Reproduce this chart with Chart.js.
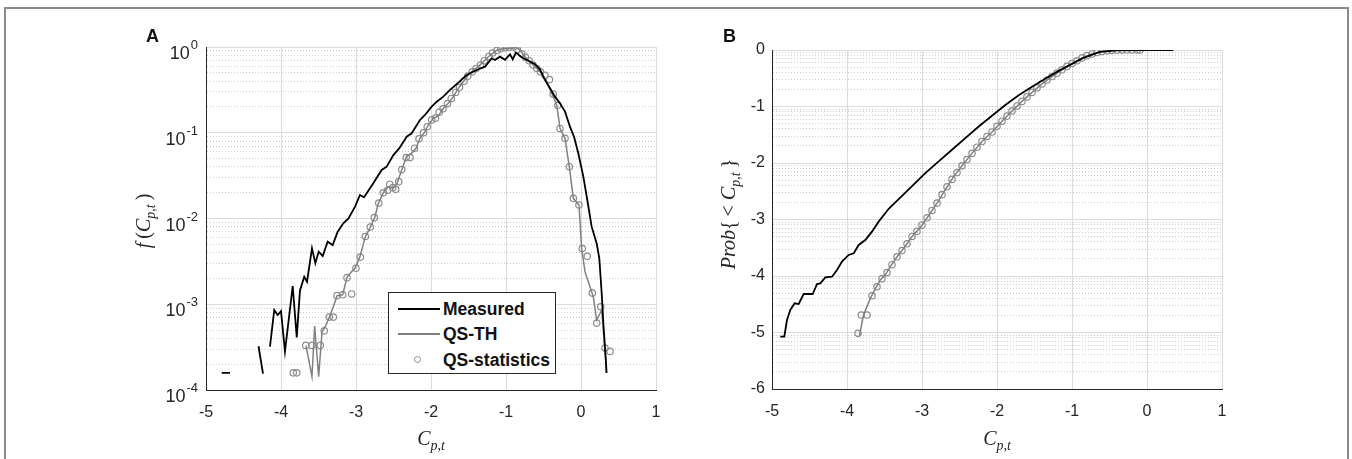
<!DOCTYPE html>
<html>
<head>
<meta charset="utf-8">
<script src="https://cdn.jsdelivr.net/npm/chart.js@4.4.0/dist/chart.umd.min.js"></script>
<style>
    body { margin: 0; background: #fff; width: 1352px; height: 459px; overflow: hidden; position: relative;
           font-family: "Liberation Sans", Arial, sans-serif; }
    .frame { position: absolute; left: 4px; top: 7px; width: 1345px; height: 480px;
             border: 2px solid #8c8c8c; box-sizing: border-box; }
    .panel { position: absolute; top: 0; }
    .letter { position: absolute; font-weight: bold; font-size: 18px; color: #111; }
    .mtitle { position: absolute; font-family: "Liberation Serif", "DejaVu Serif", serif; font-size: 20px;
              color: #262626; white-space: nowrap; transform: translate(-50%, -50%); }
    .mtitle.rot { transform: translate(-50%, -50%) rotate(-90deg); }
    .mtitle i { font-style: italic; }
    .mtitle sub { font-size: 14px; font-style: italic; vertical-align: -5px; line-height: 0; }
    .legend { position: absolute; left: 388px; top: 292px; width: 168px; height: 82px; background: #fff;
              border: 1px solid #262626; box-sizing: border-box; }
    .legend .row { position: absolute; left: 0; height: 20px; width: 100%; }
    .legend .sample { position: absolute; left: 9px; top: 9px; width: 42px; height: 0; }
    .legend .dot { position: absolute; left: 25px; top: 6px; width: 7px; height: 7px; border-radius: 50%;
                   border: 1.2px solid #8c8c8c; box-sizing: border-box; }
    .legend .txt { position: absolute; left: 54px; top: 0; font-size: 17.5px; font-weight: bold; line-height: 20px; color: #111; }
</style>
</head>
<body>
<div class="frame"></div>
<div class="panel" style="left:0"><canvas id="chartA" width="676" height="459"></canvas></div>
<div class="panel" style="left:676px"><canvas id="chartB" width="676" height="459"></canvas></div>

<div class="letter" style="left:146px; top:26px">A</div>
<div class="letter" style="left:723px; top:26px">B</div>

<div class="mtitle" style="left:431px; top:438px"><i>C</i><sub>p,t</sub></div>
<div class="mtitle rot" style="left:143px; top:221px"><i>f</i>&thinsp;(<i>C</i><sub>p,t</sub>&thinsp;)</div>
<div class="mtitle" style="left:997px; top:438px"><i>C</i><sub>p,t</sub></div>
<div class="mtitle rot" style="left:728px; top:214px"><i>Prob</i>{&thinsp;&lt;&nbsp;<i>C</i><sub>p,t</sub>&thinsp;}</div>

<div class="legend">
    <div class="row" style="top:6px"><div class="sample" style="border-top:2px solid #000"></div><div class="txt">Measured</div></div>
    <div class="row" style="top:31px"><div class="sample" style="border-top:2px solid #808080"></div><div class="txt">QS-TH</div></div>
    <div class="row" style="top:57px"><div class="dot"></div><div class="txt">QS-statistics</div></div>
</div>

<script>
// Panel A: pdf, log10 f(Cp,t)  (null = no value, gap in line)
const cpMeasA = [-4.79, -4.68, -4.5, -4.30, -4.24, -4.2, -4.147, -4.09, -4.044, -4.0, -3.947, -3.844, -3.79, -3.747, -3.69, -3.653,
    -3.587, -3.542, -3.498, -3.444, -3.378, -3.311, -3.244, -3.169, -3.10, -3.013, -2.947, -2.893, -2.769, -2.658, -2.591, -2.502,
    -2.422, -2.324, -2.258, -2.147, -2.08, -1.991, -1.924, -1.836, -1.747, -1.636, -1.524, -1.391, -1.28, -1.191, -1.147, -1.08,
    -1.013, -0.947, -0.91, -0.867, -0.791, -0.68, -0.613, -0.547, -0.48, -0.413, -0.347, -0.28, -0.213, -0.147, -0.093, -0.036,
    0.031, 0.084, 0.142, 0.209, 0.244, 0.276, 0.298, 0.333, 0.34];
const logfMeasA = [-3.80, -3.80, null, -3.49, -3.81, null, -3.495, -3.067, -3.125, -3.08, -3.55, -2.787, -3.386, -2.84, -2.68, -2.737,
    -2.348, -2.52, -2.387, -2.437, -2.27, -2.31, -2.154, -2.056, -2.0, -1.862, -1.726, -1.753, -1.59, -1.434, -1.396, -1.26,
    -1.18, -1.046, -1.006, -0.851, -0.793, -0.696, -0.638, -0.579, -0.501, -0.416, -0.327, -0.268, -0.229, -0.132, -0.152, -0.113,
    -0.15, -0.085, -0.143, -0.066, -0.12, -0.171, -0.20, -0.26, -0.385, -0.482, -0.579, -0.657, -0.754, -0.929, -1.046, -1.24,
    -1.512, -1.784, -2.095, -2.29, -2.464, -2.872, -3.222, -3.67, -3.80];

const cpThA = [-3.667, -3.587, -3.551, -3.498, -3.453, -3.409, -3.356, -3.302, -3.253, -3.178, -3.12, -3.06, -3.013, -2.947, -2.876,
    -2.809, -2.747, -2.702, -2.636, -2.569, -2.502, -2.449, -2.391, -2.324, -2.26, -2.2, -2.147, -2.08, -2.036, -1.969, -1.902,
    -1.836, -1.769, -1.702, -1.636, -1.569, -1.502, -1.436, -1.369, -1.302, -1.236, -1.178, -1.116, -1.049, -0.991, -0.924, -0.867,
    -0.82, -0.747, -0.68, -0.613, -0.547, -0.48, -0.391, -0.324, -0.28, -0.213, -0.156, -0.102, -0.027, 0.009, 0.053, 0.164,
    0.209, 0.276, 0.342];
const logfThA = [-3.483, -3.845, -3.254, -3.845, -3.32, -3.262, -3.152, -3.028, -2.90, -2.89, -2.686, -2.62, -2.58, -2.445, -2.212,
    -2.103, -1.979, -1.823, -1.699, -1.629, -1.648, -1.582, -1.434, -1.271, -1.24, -1.181, -1.065, -0.987, -0.91, -0.832, -0.805,
    -0.715, -0.657, -0.579, -0.482, -0.405, -0.327, -0.268, -0.229, -0.171, -0.113, -0.074, -0.035, -0.023, -0.015, -0.015, -0.004,
    -0.03, -0.113, -0.171, -0.229, -0.288, -0.365, -0.54, -0.676, -0.948, -1.065, -1.396, -1.765, -1.843, -2.348, -2.62, -2.912,
    -3.184, -3.067, -3.80];

const cpStatA = [-3.836, -3.79, -3.67, -3.587, -3.476, -3.423, -3.356, -3.302, -3.253, -3.178, -3.12, -3.058, -3.0, -2.942, -2.876,
    -2.809, -2.756, -2.697, -2.636, -2.58, -2.55, -2.51, -2.47, -2.43, -2.39, -2.33, -2.28, -2.22, -2.16, -2.10, -2.05, -1.99,
    -1.94, -1.89, -1.84, -1.78, -1.73, -1.67, -1.62, -1.56, -1.51, -1.45, -1.40, -1.34, -1.29, -1.23, -1.18, -1.12, -1.07, -1.01,
    -0.96, -0.90, -0.85, -0.79, -0.74, -0.69, -0.64, -0.59, -0.54, -0.48, -0.42, -0.37, -0.31, -0.28, -0.213, -0.156, -0.102,
    -0.027, 0.017, 0.084, 0.151, 0.209, 0.263, 0.32, 0.387];
const logfStatA = [-3.80, -3.80, -3.48, -3.48, -3.48, -3.31, -3.15, -3.15, -2.90, -2.89, -2.69, -2.88, -2.58, -2.45, -2.21,
    -2.10, -1.99, -1.82, -1.70, -1.67, -1.60, -1.64, -1.66, -1.57, -1.43, -1.29, -1.29, -1.18, -1.07, -1.00, -0.93, -0.85,
    -0.83, -0.76, -0.72, -0.66, -0.60, -0.53, -0.47, -0.40, -0.34, -0.29, -0.25, -0.21, -0.16, -0.11, -0.07, -0.04, -0.02, -0.01,
    -0.005, 0.0, -0.03, -0.08, -0.12, -0.16, -0.21, -0.25, -0.29, -0.33, -0.38, -0.55, -0.68, -0.95, -1.065, -1.396, -1.765,
    -1.843, -2.35, -2.44, -2.87, -3.22, -3.03, -3.51, -3.55];

// Panel B: cumulative probability, log10 Prob{< Cp,t}
const cpMeasB = [-4.889, -4.836, -4.80, -4.756, -4.698, -4.644, -4.578, -4.458, -4.40, -4.356, -4.289, -4.20, -4.133, -4.067,
    -3.978, -3.911, -3.844, -3.756, -3.667, -3.578, -3.444, -3.311, -3.133, -2.956, -2.778, -2.60, -2.422, -2.244, -2.067,
    -1.889, -1.711, -1.533, -1.356, -1.178, -1.0, -0.849, -0.627, -0.404, -0.1, 0.35];
const logPMeasB = [-5.074, -5.074, -4.78, -4.60, -4.484, -4.496, -4.319, -4.319, -4.142, -4.13, -4.024, -4.012, -3.894, -3.746,
    -3.628, -3.599, -3.451, -3.363, -3.215, -3.038, -2.81, -2.64, -2.41, -2.18, -1.97, -1.765, -1.56, -1.355, -1.165,
    -0.975, -0.80, -0.65, -0.51, -0.37, -0.245, -0.14, -0.035, -0.006, 0, 0];

const cpThB = [-3.836, -3.78, -3.69, -3.62, -3.556, -3.489, -3.422, -3.333, -3.244, -3.133, -3.022, -2.911, -2.8, -2.689, -2.578,
    -2.467, -2.333, -2.2, -2.067, -1.933, -1.8, -1.667, -1.533, -1.4, -1.267, -1.133, -1.0, -0.867, -0.733, -0.6, -0.467,
    -0.333, -0.2, 0.347];
const logPThB = [-5.07, -4.69, -4.40, -4.22, -4.07, -3.98, -3.835, -3.66, -3.51, -3.30, -3.14, -2.93, -2.71, -2.47, -2.24,
    -2.05, -1.83, -1.62, -1.45, -1.26, -1.08, -0.91, -0.75, -0.60, -0.47, -0.35, -0.24, -0.14, -0.07, -0.025, -0.007,
    -0.002, 0, 0];

const cpStatB = [-3.853, -3.809, -3.733, -3.667, -3.600, -3.533, -3.467, -3.400, -3.333, -3.267, -3.200, -3.133, -3.067, -3.000,
    -2.933, -2.867, -2.800, -2.733, -2.667, -2.600, -2.533, -2.467, -2.400, -2.333, -2.267, -2.200, -2.133, -2.067, -2.000,
    -1.933, -1.867, -1.800, -1.733, -1.667, -1.600, -1.533, -1.467, -1.400, -1.333, -1.267, -1.200, -1.133, -1.067, -1.000,
    -0.933, -0.867, -0.800, -0.733, -0.667, -0.600, -0.533, -0.467, -0.400, -0.333, -0.267, -0.200, -0.133, -0.093];
const logPStatB = [-5.015, -4.69, -4.69, -4.35, -4.19, -4.05, -3.94, -3.80, -3.66, -3.55, -3.43, -3.30, -3.21, -3.10,
    -2.97, -2.84, -2.71, -2.56, -2.42, -2.29, -2.17, -2.05, -1.94, -1.83, -1.72, -1.62, -1.53, -1.45, -1.35,
    -1.26, -1.17, -1.08, -0.99, -0.91, -0.83, -0.75, -0.67, -0.60, -0.53, -0.47, -0.41, -0.35, -0.29, -0.24,
    -0.19, -0.14, -0.10, -0.07, -0.045, -0.025, -0.013, -0.007, -0.004, -0.002, -0.001, 0, 0, 0];

const xTicks = [-5, -4, -3, -2, -1, 0, 1];

const AXIS = '#262626';
const GRID_MAJOR = '#dcdcdc';
const GRID_MINOR = '#cdcdcd';
const FONT = "'Liberation Sans', Arial, sans-serif";

Chart.defaults.font.family = FONT;
Chart.defaults.font.size = 16;
Chart.defaults.color = AXIS;

function toPoints(xs, logs) {
    return xs.map((x, i) => ({ x: x, y: logs[i] === null ? null : Math.pow(10, logs[i]) }));
}

function isDecade(v) {
    const e = Math.log10(v);
    return Math.abs(e - Math.round(e)) < 1e-6;
}

// "10" with a raised exponent, drawn at the y scale's decade ticks
const powerLabels = {
    id: 'powerLabels',
    afterDraw(chart) {
        const s = chart.scales.y;
        const ctx = chart.ctx;
        ctx.save();
        ctx.fillStyle = AXIS;
        ctx.textAlign = 'right';
        ctx.textBaseline = 'alphabetic';
        s.ticks.forEach(t => {
            if (!isDecade(t.value)) return;
            const y = s.getPixelForValue(t.value);
            const exp = String(Math.round(Math.log10(t.value)));
            const right = s.right - 8;
            ctx.font = '13px ' + FONT;
            const ew = ctx.measureText(exp).width;
            ctx.fillText(exp, right, y + 2);
            ctx.font = '18px ' + FONT;
            ctx.fillText('10', right - ew - 1, y + 12);
        });
        ctx.restore();
    }
};

function lineSet(label, pts, color, width) {
    return { label, data: pts, showLine: true, borderColor: color, borderWidth: width,
             pointRadius: 0, fill: false, spanGaps: false, tension: 0 };
}

function circleSet(label, pts) {
    return { label, data: pts, showLine: false, pointRadius: 3.2, pointBorderWidth: 1.2,
             pointBorderColor: '#8c8c8c', pointBackgroundColor: 'rgba(0,0,0,0)' };
}

function makeOptions(cfg) {
    return {
        responsive: false,
        animation: false,
        layout: { padding: cfg.padding },
        plugins: { legend: { display: false }, tooltip: { enabled: false } },
        scales: {
            x: {
                type: 'linear', min: -5, max: 1,
                afterBuildTicks: s => { s.ticks = xTicks.map(v => ({ value: v })); },
                afterFit: s => { s.height = cfg.xHeight; },
                ticks: { padding: 13, font: { size: 16 } },
                grid: { color: GRID_MAJOR, drawTicks: false },
                border: { color: AXIS, width: 1 }
            },
            y: {
                type: 'logarithmic', min: cfg.yMin, max: 1,
                afterBuildTicks: s => {
                    // keep 1..9 x 10^n only
                    s.ticks = s.ticks.filter(t => {
                        const m = t.value / Math.pow(10, Math.floor(Math.log10(t.value) + 1e-9));
                        return Math.abs(m - Math.round(m)) < 1e-6;
                    });
                },
                afterFit: s => { s.width = cfg.yWidth; },
                ticks: { autoSkip: false, padding: cfg.yPad, font: { size: 16 }, callback: cfg.yLabel },
                grid: {
                    drawTicks: false,
                    color: ctx => (ctx.tick && !isDecade(ctx.tick.value)) ? GRID_MINOR : GRID_MAJOR
                },
                border: {
                    color: AXIS, width: 1,
                    dash: ctx => (ctx.tick && !isDecade(ctx.tick.value)) ? [1, 2] : []
                }
            }
        }
    };
}

new Chart(document.getElementById('chartA'), {
    type: 'scatter',
    data: {
        datasets: [
            lineSet('Measured', toPoints(cpMeasA, logfMeasA), '#000000', 1.8),
            lineSet('QS-TH', toPoints(cpThA, logfThA), '#808080', 1.5),
            circleSet('QS-statistics', toPoints(cpStatA, logfStatA))
        ]
    },
    options: makeOptions({
        padding: { left: 0, top: 47, right: 20, bottom: 0 },
        xHeight: 69, yWidth: 206, yMin: 1e-4, yPad: 8,
        yLabel: () => ''
    }),
    plugins: [powerLabels]
});

new Chart(document.getElementById('chartB'), {
    type: 'scatter',
    data: {
        datasets: [
            lineSet('Measured', toPoints(cpMeasB, logPMeasB), '#000000', 1.8),
            lineSet('QS-TH', toPoints(cpThB, logPThB), '#808080', 1.5),
            circleSet('QS-statistics', toPoints(cpStatB, logPStatB))
        ]
    },
    options: makeOptions({
        padding: { left: 0, top: 50, right: 130, bottom: 0 },
        xHeight: 70, yWidth: 96, yMin: 1e-6, yPad: 7,
        yLabel: v => isDecade(v) ? String(Math.round(Math.log10(v))) : ''
    })
});
</script>
</body>
</html>
